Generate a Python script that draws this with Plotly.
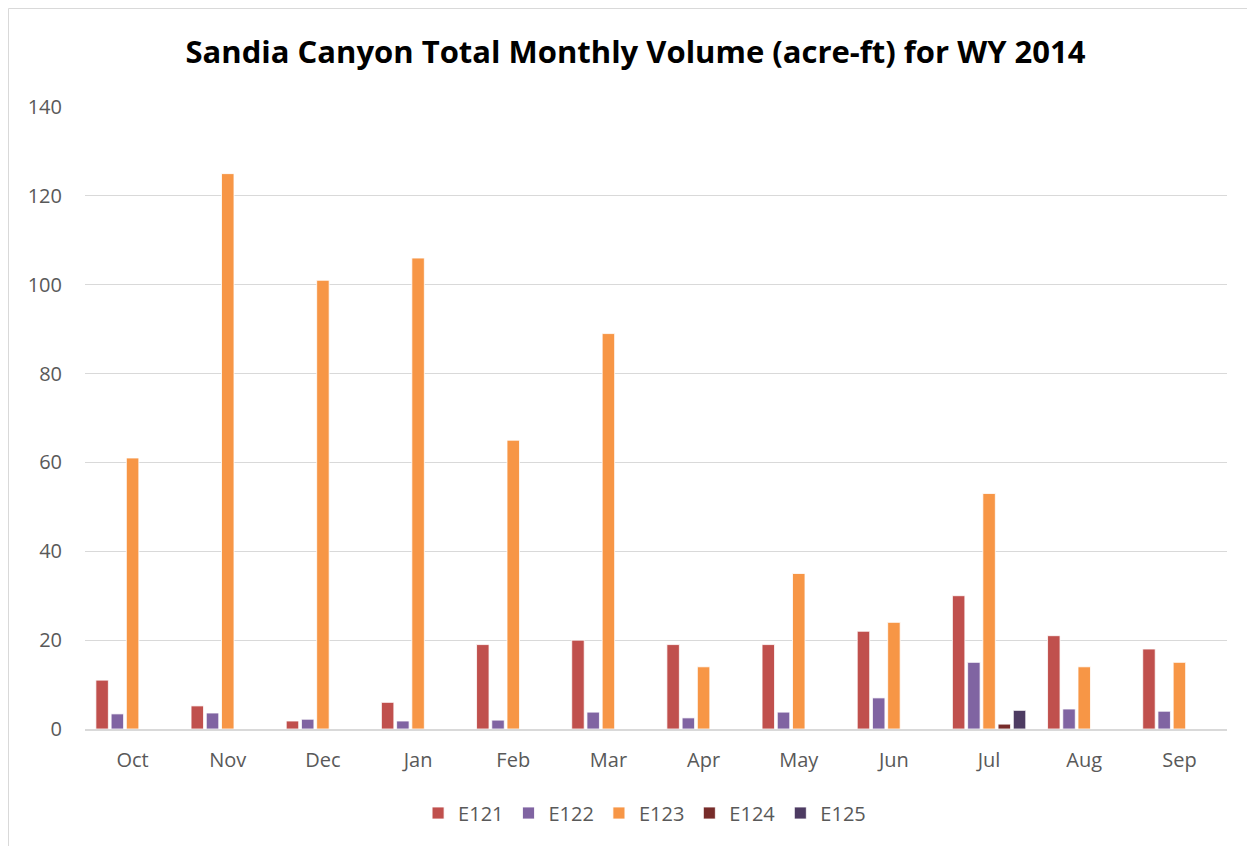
import plotly.graph_objects as go

months = ["Oct", "Nov", "Dec", "Jan", "Feb", "Mar", "Apr", "May", "Jun", "Jul", "Aug", "Sep"]
e121 = [11, 5.2, 1.8, 6, 19, 20, 19, 19, 22, 30, 21, 18]
e122 = [3.4, 3.6, 2.2, 1.8, 2.0, 3.8, 2.5, 3.8, 7, 15, 4.5, 4]
e123 = [61, 125, 101, 106, 65, 89, 14, 35, 24, 53, 14, 15]
e124 = [0, 0, 0, 0, 0, 0, 0, 0, 0, 1.1, 0, 0]
e125 = [0, 0, 0, 0, 0, 0, 0, 0, 0, 4.2, 0, 0]

series = [
    ("E121", e121, "#C0504D"),
    ("E122", e122, "#8064A2"),
    ("E123", e123, "#F79646"),
    ("E124", e124, "#772C2A"),
    ("E125", e125, "#4D3B62"),
]

fig = go.Figure()
for name, vals, col in series:
    fig.add_trace(go.Bar(
        x=months, y=vals, name=name,
        marker=dict(color=col, line=dict(color="white", width=0.8)),
    ))

W, H = 1255, 846
l, r, t, b = 77, 36, 99, 125
pw, ph = W - l - r, H - t - b

fig.update_layout(
    width=W, height=H,
    margin=dict(l=l, r=r, t=t, b=b),
    paper_bgcolor="white", plot_bgcolor="white",
    barmode="group", bargap=0.2, bargroupgap=0.18,
    title=dict(text="<b>Sandia Canyon Total Monthly Volume (acre-ft) for WY 2014</b>",
               x=0.5, xanchor="center", y=1 - 44 / H, yanchor="middle",
               font=dict(family="Open Sans, Lato, sans-serif", size=31, color="black")),
    font=dict(family="Open Sans, Lato, sans-serif", size=20, color="#595959"),
    legend=dict(orientation="h", x=0.49, xanchor="center", y=-(805 - 721) / ph, yanchor="middle",
                font=dict(size=20, color="#595959"), itemwidth=30, traceorder="normal"),
    xaxis=dict(showgrid=False, showline=True, linecolor="#D9D9D9", linewidth=1.5,
               ticks="", ticklabelstandoff=12, tickfont=dict(size=20, color="#595959")),
    yaxis=dict(range=[0, 140], dtick=20, showgrid=True, gridcolor="#D9D9D9", gridwidth=1,
               zeroline=False, showline=False, ticks="", ticklabelstandoff=22,
               tickfont=dict(size=20, color="#595959")),
    shapes=[dict(type="rect", xref="paper", yref="paper",
                 x0=(0.5 - l) / pw, x1=(W + 5 - l) / pw,
                 y0=-(H + 5 - t - ph) / ph, y1=1 + (t - 0.5) / ph,
                 line=dict(color="#D9D9D9", width=1), layer="below")],
)

fig.write_html("out.html")
